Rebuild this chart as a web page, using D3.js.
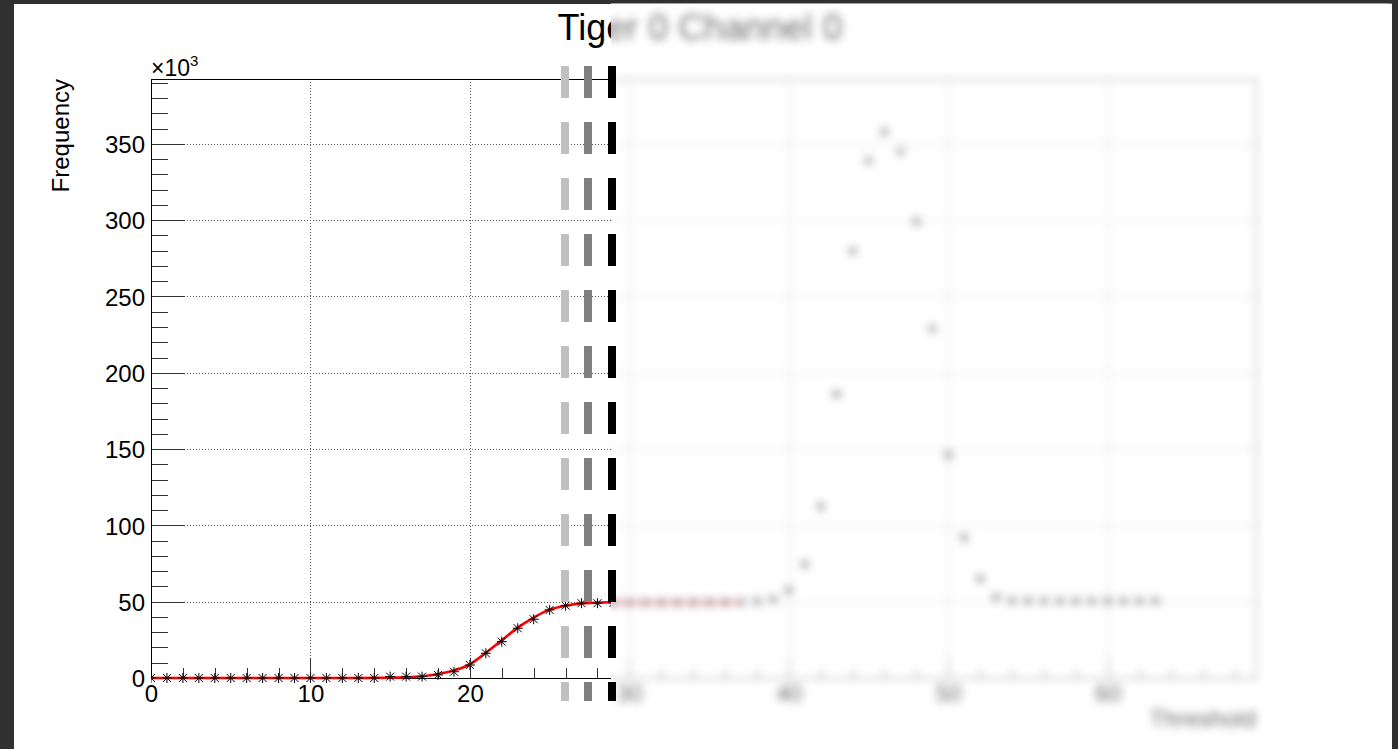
<!DOCTYPE html>
<html>
<head>
<meta charset="utf-8">
<script src="https://cdn.jsdelivr.net/npm/d3@7"></script>
<style>
  html, body { margin: 0; padding: 0; background: #303030; }
  svg { display: block; }
  text { font-family: "Liberation Sans", Arial, Helvetica, sans-serif; }
</style>
</head>
<body>
<svg id="chart" width="1398" height="749"></svg>
<script>
// ---- Data (frequency in units of 10^3) ----
const thresholds = [0,1,2,3,4,5,6,7,8,9,10,11,12,13,14,15,16,17,18,19,20,21,22,23,24,25,26,27,28,29,30,31,
                    32,33,34,35,36,37,38,39,40,41,42,43,44,45,46,47,48,49,50,51,52,53,54,55,56,57,58,59,60,61,62,63];
const frequency  = [0,0,0,0,0,0,0,0,0,0,0,0,0,0,0,0.9,0.9,0.9,2.0,4.1,8.5,16.2,23.8,32.6,38.5,44.6,47.4,49.0,49.0,49.2,49.3,49.3,
                    49.4,49.4,49.5,49.5,49.6,49.8,50.2,51.5,57.5,74.5,112.5,186,280,339,358,345,299,229,146,92,65,53,50.8,50.6,50.5,50.5,50.5,50.5,50.5,50.5,50.5,50.5];
const fitX = [0,1,2,3,4,5,6,7,8,9,10,11,12,13,14,15,16,17,18,19,20,21,22,23,24,25,26,27,28,29,30,31,32,33,34,35,36,37];
const fitY = [0,0,0,0,0,0,0,0,0,0,0,0,0,0,0.05,0.2,0.5,1.2,2.6,5.0,9.0,16.5,24.7,33.0,39.6,44.8,47.4,48.9,49.4,49.6,49.6,49.6,49.6,49.6,49.6,49.6,49.6,49.6];
const yTickLabels = [0,50,100,150,200,250,300,350];
const xTickLabels = [0,10,20,30,40,50,60];
const titleText = "Tiger 0 Channel 0";
const xTitle = "Threshold";
const yTitle = "Frequency";

// ---- Layout ----
const W = 1398, H = 749;
const frame = {left: 151, right: 1256, top: 79, bottom: 678};
const xDomain = [0, 69.3], yDomain = [0, 392.5];
const blurStart = 611;

const svg = d3.select("#chart");
const defs = svg.append("defs");
defs.append("clipPath").attr("id", "clipSharp")
  .append("rect").attr("x", 0).attr("y", 0).attr("width", blurStart).attr("height", H);
defs.append("clipPath").attr("id", "clipBlur")
  .append("rect").attr("x", blurStart).attr("y", 3).attr("width", 1392 - blurStart).attr("height", H);
defs.append("clipPath").attr("id", "clipFrame")
  .append("rect").attr("x", frame.left).attr("y", frame.top - 6)
  .attr("width", frame.right - frame.left).attr("height", frame.bottom - frame.top + 12);
const filt = defs.append("filter").attr("id", "blur")
  .attr("filterUnits", "userSpaceOnUse").attr("x", 0).attr("y", 0).attr("width", W).attr("height", H);
filt.append("feGaussianBlur").attr("stdDeviation", 4.3);

// page background
svg.append("rect").attr("x", 0).attr("y", 0).attr("width", W).attr("height", H).attr("fill", "#303030");
svg.append("rect").attr("x", 14).attr("y", 4).attr("width", 1392 - 14).attr("height", H - 4).attr("fill", "#ffffff");

const x = d3.scaleLinear().domain(xDomain).range([frame.left, frame.right]);
const y = d3.scaleLinear().domain(yDomain).range([frame.bottom, frame.top]);

function drawChart(g, bgY) {
  g.append("rect").attr("x", 14).attr("y", bgY).attr("width", 1392 - 14).attr("height", H).attr("fill", "#fff");

  // grid
  const grid = g.append("g").attr("stroke", "#555").attr("stroke-width", 1).attr("stroke-dasharray", "1,2")
    .attr("shape-rendering", "crispEdges");
  grid.selectAll("line.gx").data(xTickLabels.filter(d => d > 0)).join("line")
    .attr("x1", d => Math.round(x(d)) + 0.5).attr("x2", d => Math.round(x(d)) + 0.5)
    .attr("y1", frame.top).attr("y2", frame.bottom);
  grid.selectAll("line.gy").data(yTickLabels.filter(d => d > 0)).join("line")
    .attr("y1", d => Math.round(y(d)) + 0.5).attr("y2", d => Math.round(y(d)) + 0.5)
    .attr("x1", frame.left).attr("x2", frame.right);

  // y ticks (major & minor)
  const yMinor = d3.range(0, 391, 10).filter(d => d % 50 !== 0);
  const yMaj = g.append("g").attr("transform", `translate(${frame.left},0)`)
    .call(d3.axisRight(y).tickValues(yTickLabels).tickSize(34).tickFormat(""));
  const yMin = g.append("g").attr("transform", `translate(${frame.left},0)`)
    .call(d3.axisRight(y).tickValues(yMinor).tickSize(17).tickFormat(""));
  // x ticks
  const xMinor = d3.range(0, 69, 2).filter(d => d % 10 !== 0);
  const xMaj = g.append("g").attr("transform", `translate(0,${frame.bottom})`)
    .call(d3.axisTop(x).tickValues(xTickLabels).tickSize(20).tickFormat(""));
  const xMin = g.append("g").attr("transform", `translate(0,${frame.bottom})`)
    .call(d3.axisTop(x).tickValues(xMinor).tickSize(10).tickFormat(""));
  [yMaj, yMin, xMaj, xMin].forEach(a => {
    a.select(".domain").remove();
    a.selectAll("line").attr("stroke", "#333").attr("shape-rendering", "crispEdges");
  });

  // labels
  const yLab = g.append("g").attr("transform", `translate(${frame.left},0)`)
    .call(d3.axisLeft(y).tickValues(yTickLabels).tickSize(0).tickPadding(6).tickFormat(d3.format("d")));
  yLab.select(".domain").remove();
  yLab.selectAll("text").attr("font-size", 24).attr("fill", "#000")
    .attr("font-family", "Liberation Sans, Arial, sans-serif").attr("dy", "0.36em");
  const xLab = g.append("g").attr("transform", `translate(0,${frame.bottom})`)
    .call(d3.axisBottom(x).tickValues(xTickLabels).tickSize(0).tickPadding(7).tickFormat(d3.format("d")));
  xLab.select(".domain").remove();
  xLab.selectAll("text").attr("font-size", 24).attr("fill", "#000")
    .attr("font-family", "Liberation Sans, Arial, sans-serif");

  // frame
  g.append("rect").attr("x", frame.left + 0.5).attr("y", frame.top + 0.5)
    .attr("width", frame.right - frame.left).attr("height", frame.bottom - frame.top)
    .attr("fill", "none").attr("stroke", "#000").attr("stroke-width", 1).attr("shape-rendering", "crispEdges");

  // exponent
  const ex = g.append("text").attr("x", frame.left).attr("y", 76).attr("font-size", 23).attr("fill", "#000");
  ex.append("tspan").text("\u00d710");
  ex.append("tspan").attr("font-size", 15).attr("dy", -10).text("3");

  // axis titles
  g.append("text").attr("transform", `translate(69,${frame.top}) rotate(-90)`)
    .attr("text-anchor", "end").attr("font-size", 24).attr("fill", "#000").text(yTitle);
  g.append("text").attr("x", frame.right).attr("y", 727)
    .attr("text-anchor", "end").attr("font-size", 24).attr("fill", "#000").text(xTitle);

  // title
  g.append("text").attr("x", 700).attr("y", 40).attr("text-anchor", "middle")
    .attr("font-size", 36).attr("fill", "#000").text(titleText);

  // data
  const plot = g.append("g").attr("clip-path", "url(#clipFrame)");
  const fitData = fitX.map((d, i) => [d, fitY[i]]);
  plot.append("path").datum(fitData)
    .attr("fill", "none").attr("stroke", "#ff0000").attr("stroke-width", 2.6)
    .attr("d", d3.line().x(d => x(d[0])).y(d => y(d[1])).curve(d3.curveMonotoneX));

  const pts = thresholds.map((d, i) => [d, frequency[i]]);
  const r = 5, rd = 4;
  const star = `M${-r},0L${r},0M0,${-r}L0,${r}M${-rd},${-rd}L${rd},${rd}M${-rd},${rd}L${rd},${-rd}`;
  plot.selectAll("path.pt").data(pts).join("path")
    .attr("class", "pt")
    .attr("transform", d => `translate(${x(d[0])},${y(d[1])})`)
    .attr("d", star).attr("stroke", "#000").attr("stroke-width", 1).attr("fill", "none");
}

// sharp part
const sharp = svg.append("g").attr("clip-path", "url(#clipSharp)");
drawChart(sharp.append("g"), 4);

// blurred part
const blurOuter = svg.append("g").attr("clip-path", "url(#clipBlur)");
const blurInner = blurOuter.append("g").attr("filter", "url(#blur)");
drawChart(blurInner, 3);

// dashed transition bars
const bars = [
  {x: 565, color: "#c0c0c0"},
  {x: 588, color: "#808080"},
  {x: 612, color: "#000000"}
];
svg.append("g").selectAll("line").data(bars).join("line")
  .attr("x1", d => d.x).attr("x2", d => d.x)
  .attr("y1", 66).attr("y2", 701)
  .attr("stroke", d => d.color).attr("stroke-width", 8)
  .attr("stroke-dasharray", "32,24");
</script>
</body>
</html>
